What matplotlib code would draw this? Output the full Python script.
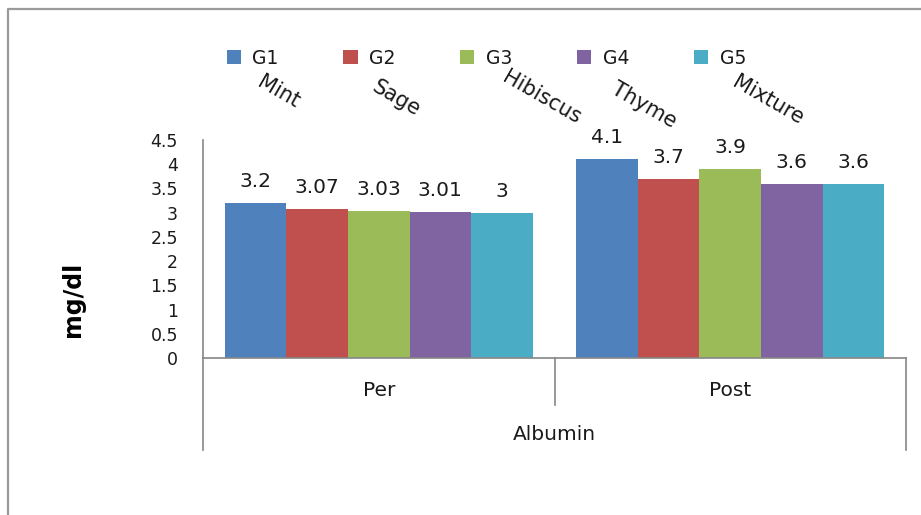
import matplotlib
matplotlib.use("Agg")
import matplotlib.pyplot as plt
from matplotlib.patches import Patch
from matplotlib.lines import Line2D
import matplotlib.transforms as mtransforms

# Serum albumin (mg/dl) before and after treatment, five groups
categories = ["Per", "Post"]
super_category = "Albumin"
groups = ["G1", "G2", "G3", "G4", "G5"]
herbs = ["Mint", "Sage", "Hibiscus", "Thyme", "Mixture"]
values = {
    "G1": [3.2, 4.1],
    "G2": [3.07, 3.7],
    "G3": [3.03, 3.9],
    "G4": [3.01, 3.6],
    "G5": [3.0, 3.6],
}
value_labels = {
    "G1": ["3.2", "4.1"],
    "G2": ["3.07", "3.7"],
    "G3": ["3.03", "3.9"],
    "G4": ["3.01", "3.6"],
    "G5": ["3", "3.6"],
}
yticks = [0, 0.5, 1, 1.5, 2, 2.5, 3, 3.5, 4, 4.5]
ytick_labels = ["0", "0.5", "1", "1.5", "2", "2.5", "3", "3.5", "4", "4.5"]
colors = ["#4F81BD", "#C0504D", "#9BBB59", "#8064A2", "#4BACC6"]
axis_gray = "#868686"

W, H = 921, 515
fig = plt.figure(figsize=(W / 100, H / 100), dpi=100)
fig.patch.set_facecolor("white")


def fx(px):
    return px / W


def fy(py):
    return 1 - py / H


# outer chart frame (left and top edges)
fig.add_artist(Line2D([fx(8), fx(8), 1.0], [0.0, fy(9), fy(9)],
                      transform=fig.transFigure, color="#9a9a9a", lw=1.6))

ax = fig.add_axes([fx(203), fy(358), fx(906) - fx(203), fy(140) - fy(358)])

bar_w = 0.175
n = len(groups)
for i, g in enumerate(groups):
    xs = [c + (i - (n - 1) / 2) * bar_w for c in range(len(categories))]
    bars = ax.bar(xs, values[g], width=bar_w, color=colors[i], label=g,
                  edgecolor="none", zorder=2)
    for b, lab in zip(bars, value_labels[g]):
        ax.annotate(lab, (b.get_x() + b.get_width() / 2, b.get_height()),
                    xytext=(0, 11.5), textcoords="offset points",
                    ha="center", va="baseline", fontsize=14.5, color="#1a1a1a")

ax.set_xlim(-0.5, len(categories) - 0.5)
ax.set_ylim(0, 4.5)
ax.set_yticks(yticks)
ax.set_yticklabels(ytick_labels)
ax.set_xticks([])
ax.tick_params(axis="y", length=0, pad=18, labelsize=12.5, colors="#1a1a1a")
for s in ["top", "right"]:
    ax.spines[s].set_visible(False)
for s in ["left", "bottom"]:
    ax.spines[s].set_color(axis_gray)
    ax.spines[s].set_linewidth(1.2)

# multi-level category axis: dividers and labels below the bars
trans = mtransforms.blended_transform_factory(ax.transData, fig.transFigure)
ax.plot([-0.5, -0.5], [fy(358), fy(450)], transform=trans, color=axis_gray,
        lw=1.2, clip_on=False)
ax.plot([len(categories) - 0.5] * 2, [fy(358), fy(450)], transform=trans,
        color=axis_gray, lw=1.2, clip_on=False)
for k in range(1, len(categories)):
    ax.plot([k - 0.5, k - 0.5], [fy(358), fy(405)], transform=trans,
            color=axis_gray, lw=1.2, clip_on=False)
for k, c in enumerate(categories):
    ax.text(k, fy(390), c, transform=trans, ha="center", va="center",
            fontsize=14.5, color="#1a1a1a")
ax.text((len(categories) - 1) / 2, fy(435), super_category, transform=trans,
        ha="center", va="center", fontsize=14.5, color="#1a1a1a")

fig.text(fx(73), fy(299), "mg/dl", rotation=90, ha="center", va="center",
         fontsize=17, fontweight="bold", color="#000000")

# legend across the top
handles = [Patch(facecolor=c, edgecolor="none") for c in colors]
fig.legend(handles, groups, loc="center left", bbox_to_anchor=(fx(219), fy(58)),
           ncol=5, frameon=False, fontsize=13.5, handlelength=0.75,
           handleheight=0.75, handletextpad=0.6, columnspacing=3.48,
           borderaxespad=0, labelcolor="#1a1a1a")

# herb names, slanted beneath the legend
herb_pos = [(264, 72), (379, 77), (509, 67), (618, 79), (739, 72)]
for name, (px, py) in zip(herbs, herb_pos):
    fig.text(fx(px), fy(py), name, rotation=-30, rotation_mode="anchor",
             ha="left", va="top", fontsize=15, color="#1a1a1a")

fig.savefig("out.png", dpi=100, facecolor="white")
